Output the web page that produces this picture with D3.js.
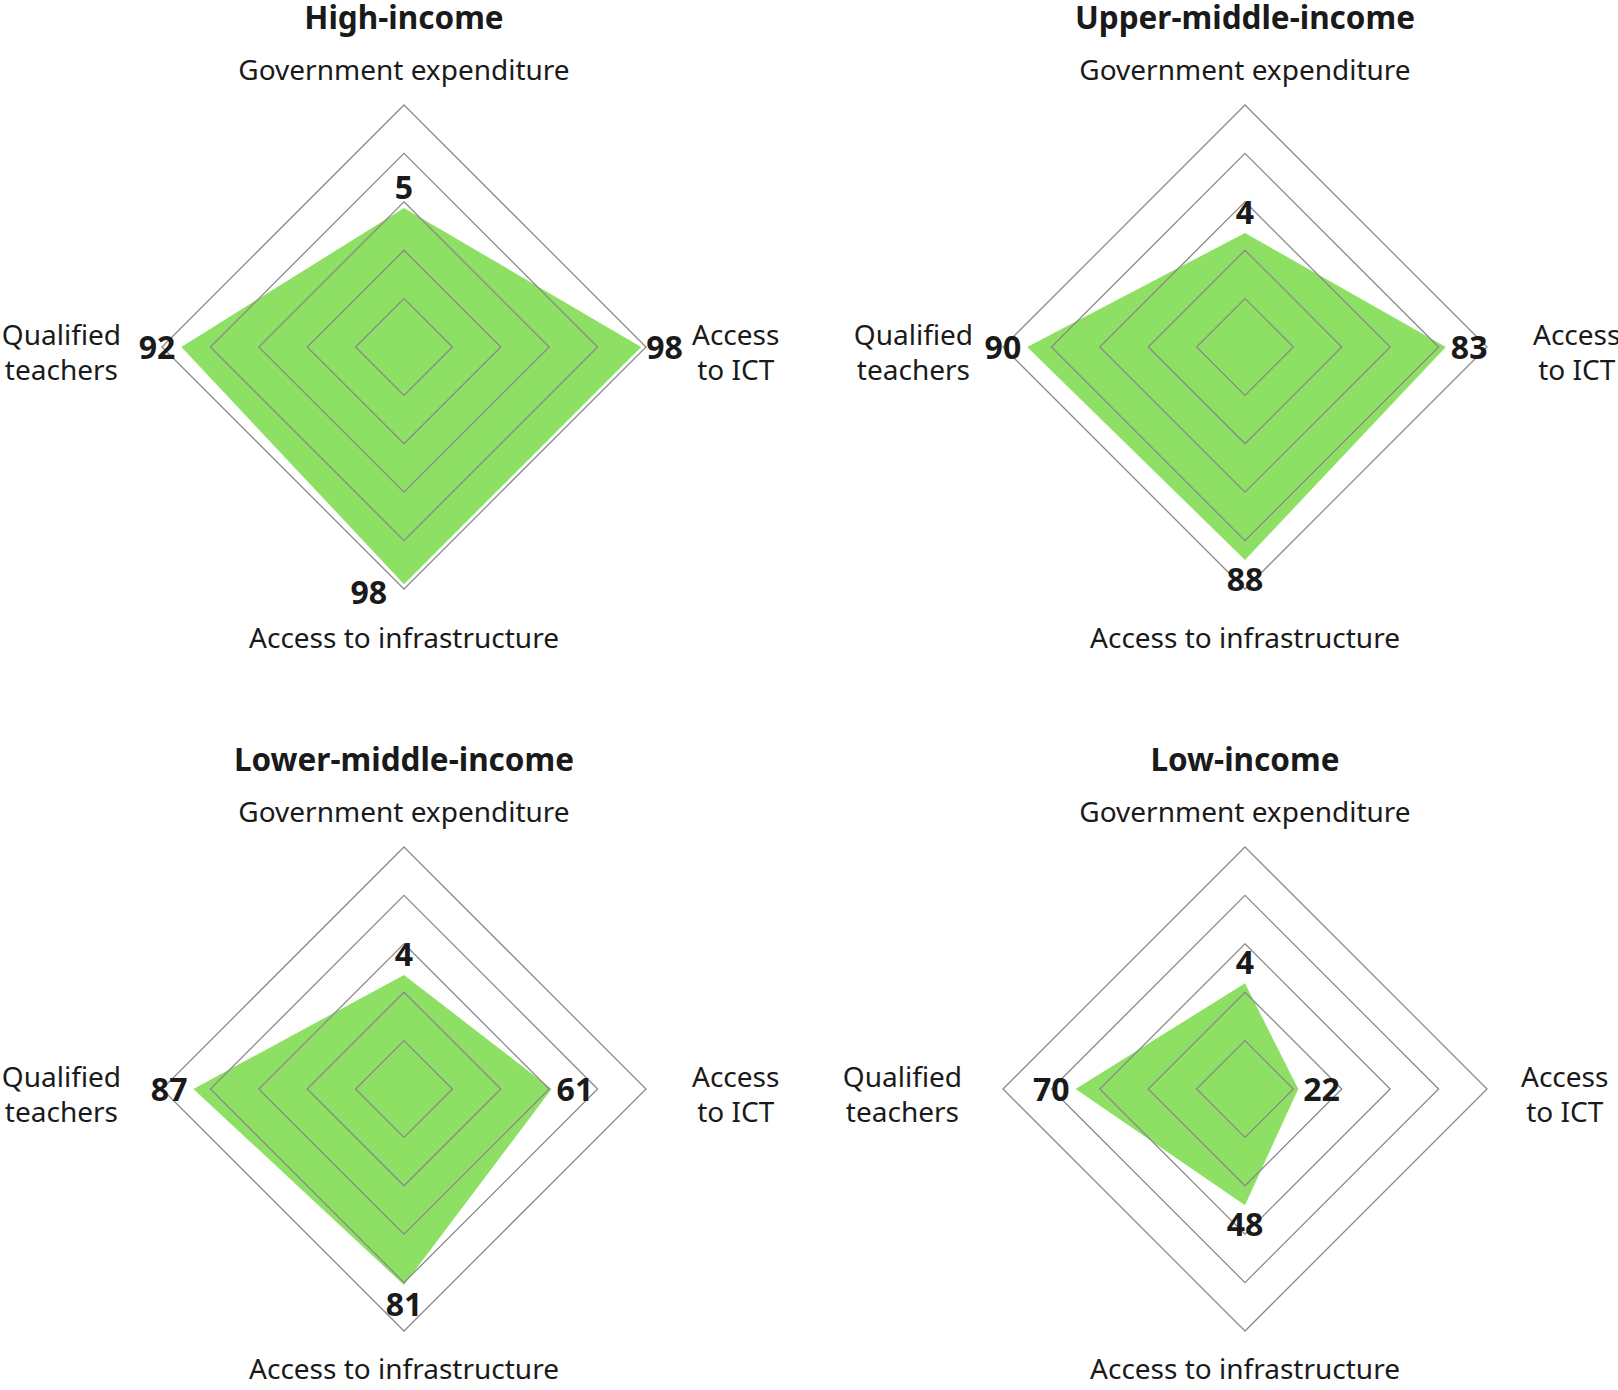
<!DOCTYPE html>
<html>
<head>
<meta charset="utf-8">
<script src="https://cdnjs.cloudflare.com/ajax/libs/d3/7.8.5/d3.min.js"></script>
<style>
  body { margin: 0; background: #fff; }
  svg { display: block; font-family: "Noto Sans", "Open Sans", sans-serif; }
</style>
</head>
<body>
<svg id="chart" width="1618" height="1390"></svg>
<script>
// data
var groups = ["High-income", "Upper-middle-income", "Lower-middle-income", "Low-income"]
var axes = ["Government expenditure", "Access to ICT", "Access to infrastructure", "Qualified teachers"]
var govExpenditure = [5.0, 4.1, 4.1, 3.8]
var accessICT = [98, 83, 61, 22]
var accessInfra = [98, 88, 81, 48]
var qualifiedTeachers = [92, 90, 87, 70]
var axisMax = [8.7, 100, 100, 100]
var gridLevels = [0.2, 0.4, 0.6, 0.8, 1]

var width = 1618, height = 1390
var R = 242
var centers = [[404, 347], [1245, 347], [404, 1089], [1245, 1089]]
// gap from centre to the side labels, per panel
var rightGap = [288, 288, 288, 276]
var leftGap = [283, 272, 283, 283]
var ink = "#1a1a1a"

var svg = d3.select("#chart")

// angle of each axis: top, right, bottom, left
var angles = [-Math.PI / 2, 0, Math.PI / 2, Math.PI]

function pt(cx, cy, a, r) {
  return [cx + r * Math.cos(a), cy + r * Math.sin(a)]
}

groups.forEach(function(name, i) {
  var cx = centers[i][0], cy = centers[i][1]
  var vals = [govExpenditure[i], accessICT[i], accessInfra[i], qualifiedTeachers[i]]
  var scales = axisMax.map(m => d3.scaleLinear().domain([0, m]).range([0, R]))
  var g = svg.append("g")

  var line = d3.line()

  // data polygon
  var poly = vals.map((v, k) => pt(cx, cy, angles[k], scales[k](v)))
  g.append("path")
    .attr("d", line(poly) + "Z")
    .attr("fill", "#8ee065")

  // grid rings on top
  g.selectAll(".ring")
    .data(gridLevels)
    .enter().append("path")
    .attr("d", f => line(angles.map(a => pt(cx, cy, a, R * f))) + "Z")
    .attr("fill", "none")
    .attr("stroke", "#8a8a8a")
    .attr("stroke-width", 1.3)

  // title
  g.append("text")
    .attr("x", cx).attr("y", cy - 318)
    .attr("text-anchor", "middle")
    .attr("font-size", 31.5).attr("font-weight", "bold")
    .attr("fill", ink)
    .text(name)

  // axis labels
  g.append("text")
    .attr("x", cx).attr("y", cy - 267)
    .attr("text-anchor", "middle")
    .attr("font-size", 28).attr("fill", ink)
    .text(axes[0])

  g.append("text")
    .attr("x", cx).attr("y", Math.min(cy + 301, height - 11))
    .attr("text-anchor", "middle")
    .attr("font-size", 28).attr("fill", ink)
    .text(axes[2])

  function sideLabel(lines, edgeX, side) {
    var t = g.append("text")
      .attr("font-size", 28).attr("fill", ink)
      .attr("text-anchor", "middle")
    var spans = lines.map((l, k) => t.append("tspan").attr("y", cy - 2 + k * 35).text(l))
    var w = d3.max(spans, s => s.node().getComputedTextLength())
    var mid = side > 0 ? edgeX + w / 2 : edgeX - w / 2
    spans.forEach(s => s.attr("x", mid))
  }
  sideLabel(["Access", "to ICT"], cx + rightGap[i], 1)
  sideLabel(["Qualified", "teachers"], cx - leftGap[i], -1)

  // value labels
  vals.forEach(function(v, k) {
    var p = poly[k]
    var t = g.append("text")
      .attr("font-size", 32).attr("font-weight", "bold")
      .attr("fill", ink)
      .text(Math.round(v))
    if (k == 0) {
      t.attr("x", p[0]).attr("y", p[1] - 9).attr("text-anchor", "middle")
    } else if (k == 1) {
      t.attr("x", p[0] + 5).attr("y", p[1] + 12).attr("text-anchor", "start")
    } else if (k == 2) {
      if (v / axisMax[k] > 0.95) {
        // too close to the rim: put it beside the point
        t.attr("x", p[0] - 17).attr("y", p[1] + 20).attr("text-anchor", "end")
      } else {
        t.attr("x", p[0]).attr("y", p[1] + 31).attr("text-anchor", "middle")
      }
    } else {
      t.attr("x", p[0] - 6).attr("y", p[1] + 12).attr("text-anchor", "end")
    }
  })
})
</script>
</body>
</html>
